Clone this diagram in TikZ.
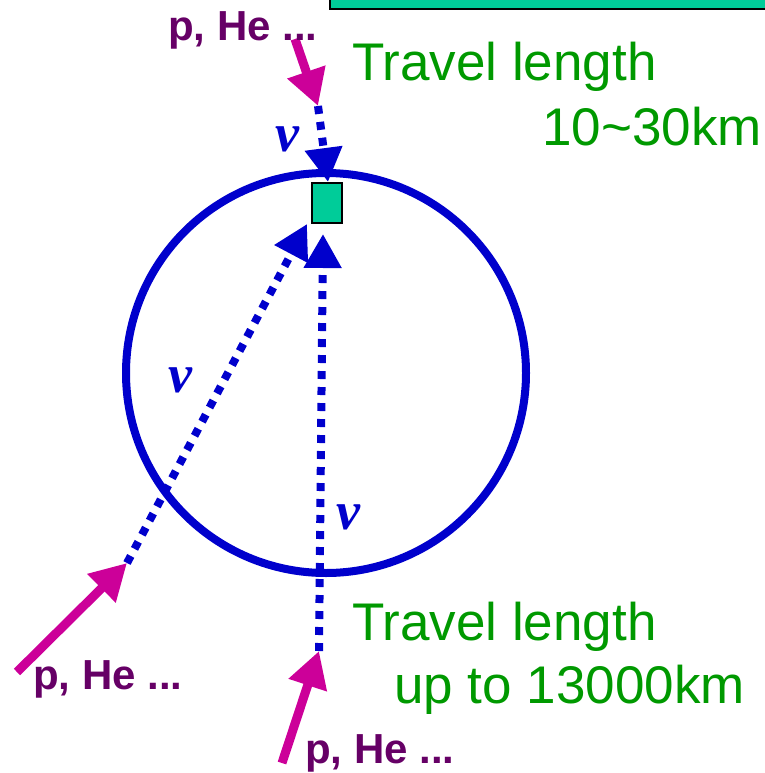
\documentclass[tikz,border=0pt]{standalone}
\usepackage{fontspec}
\setmainfont{Liberation Sans}
\newfontfamily\nufont{Liberation Serif}
\usetikzlibrary{arrows.meta}
\definecolor{tgreen}{HTML}{009900}
\definecolor{pcol}{HTML}{660066}
\definecolor{mag}{HTML}{CC0099}
\definecolor{nblue}{HTML}{0000CC}
\definecolor{teal2}{HTML}{00CC99}
\begin{document}
\begin{tikzpicture}[x=1pt,y=-1pt,
  lbl/.style={text=tgreen, font=\fontsize{53}{60}\selectfont, anchor=base west, inner sep=0pt},
  ptxt/.style={text=pcol, font=\fontsize{42}{48}\selectfont\bfseries, anchor=base west, inner sep=0pt},
  nulbl/.style={text=nblue, font=\nufont\bfseries\itshape\fontsize{54}{60}\selectfont, inner sep=0pt},
  nuline/.style={draw=nblue, line width=8pt, dash pattern=on 8pt off 8pt, -{Triangle[length=34pt,width=36pt]}},
  cray/.style={draw=mag, line width=9pt, -{Triangle[length=36pt,width=38pt]}},
  detbox/.style={draw=black, fill=teal2, line width=2.5pt, minimum width=30pt, minimum height=40pt, inner sep=0pt}]
\useasboundingbox (0,0) rectangle (764,773);
% top box (partially visible)
\draw[fill=teal2, line width=2.5pt] (330,-30) rectangle (790,9);
% earth
\draw[draw=nblue, line width=8pt] (326,373) circle[radius=200];
% detector
\node[detbox] (det) at (327,203) {};
% coordinates
\coordinate (t0) at (295,39);
\coordinate (t1) at (318,106);
\coordinate (t2) at (328,182);
\coordinate (l0) at (17,672);
\coordinate (l1) at (127,563);
\coordinate (l2) at (307,224);
\coordinate (b0) at (282,763);
\coordinate (b1) at (319,651);
\coordinate (b2) at (323,234);
% cosmic rays
\draw[cray] (t0) -- (t1);
\draw[cray] (l0) -- (l1);
\draw[cray] (b0) -- (b1);
% neutrinos
\draw[nuline] (t1) -- (t2);
\draw[nuline] (l1) -- (l2);
\draw[nuline] (b1) -- (b2);
% labels
\node[nulbl] (nu1) at (287,139) {ν};
\node[nulbl] (nu2) at (180,380) {ν};
\node[nulbl] (nu3) at (348,517) {ν};
\node[ptxt] (p1) at (168,41) {p, He ...};
\node[ptxt] (p2) at (33,689) {p, He ...};
\node[ptxt] (p3) at (305,763) {p, He ...};
\node[lbl] (tl1) at (352,81) {Travel length};
\node[lbl] (km1) at (542,145) {10\char"7E 30km};
\node[lbl] (tl2) at (352,640) {Travel length};
\node[lbl] (km2) at (394,703) {up to 13000km};
\end{tikzpicture}
\end{document}
